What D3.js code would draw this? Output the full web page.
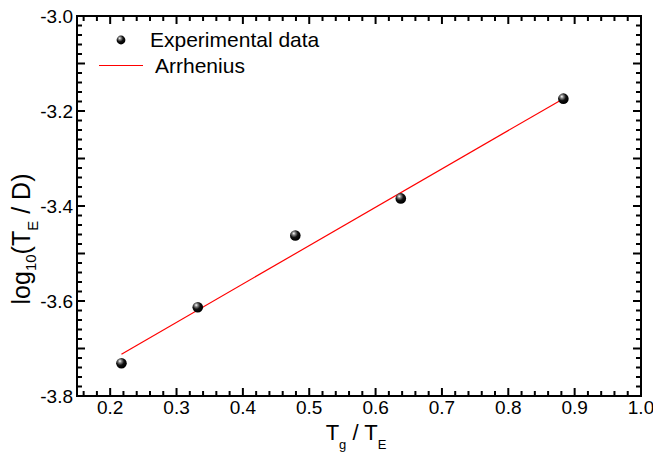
<!DOCTYPE html>
<html>
<head>
<meta charset="utf-8">
<script src="https://cdn.jsdelivr.net/npm/d3@7"></script>
<style>
  body { margin: 0; background: #fff; }
  text { font-family: "Liberation Sans", Arial, sans-serif; }
</style>
</head>
<body>
<div id="chart"></div>
<script>
// data
var xData = [0.217, 0.332, 0.479, 0.638, 0.883];
var yData = [-3.731, -3.613, -3.462, -3.384, -3.174];
// Arrhenius fit endpoints
var fitX = [0.217, 0.883];
var fitY = [-3.712, -3.174];

var xTicks = [0.2, 0.3, 0.4, 0.5, 0.6, 0.7, 0.8, 0.9, 1.0];
var yTicks = [-3.8, -3.6, -3.4, -3.2, -3.0];

var width = 653, height = 454;
var margin = {top: 16, right: 12, bottom: 58, left: 77};

var svg = d3.select("#chart").append("svg")
    .attr("width", width)
    .attr("height", height);

var x = d3.scaleLinear()
    .domain([0.15, 1.0])
    .range([margin.left, width - margin.right]);

var y = d3.scaleLinear()
    .domain([-3.8, -3.0])
    .range([height - margin.bottom, margin.top]);

var defs = svg.append("defs");
var grad = defs.append("radialGradient")
    .attr("id", "ball")
    .attr("cx", "40%").attr("cy", "35%").attr("r", "60%")
    .attr("fx", "35%").attr("fy", "30%");
grad.append("stop").attr("offset", "0%").attr("stop-color", "#ffffff");
grad.append("stop").attr("offset", "25%").attr("stop-color", "#888");
grad.append("stop").attr("offset", "60%").attr("stop-color", "#111");
grad.append("stop").attr("offset", "100%").attr("stop-color", "#000");

var left = x.range()[0], right = x.range()[1];
var bottom = y.range()[0], top_ = y.range()[1];

// minor ticks every 0.02, major every 0.1, all four sides, pointing inward
var xMinor = d3.range(0, 43).map(i => 0.16 + i * 0.02);
var yMinor = d3.range(0, 41).map(i => -3.8 + i * 0.02);
function tickLen(v) {
  var r = Math.abs(v * 10 - Math.round(v * 10));
  return r < 1e-6 ? 8 : 5;
}

var segs = [];
xMinor.forEach(v => {
  segs.push([x(v), bottom, x(v), bottom - tickLen(v)]);
  segs.push([x(v), top_, x(v), top_ + tickLen(v)]);
});
yMinor.forEach(v => {
  segs.push([left, y(v), left + tickLen(v), y(v)]);
  segs.push([right, y(v), right - tickLen(v), y(v)]);
});

svg.append("g").selectAll("line")
  .data(segs)
  .join("line")
    .attr("x1", d => d[0]).attr("y1", d => d[1])
    .attr("x2", d => d[2]).attr("y2", d => d[3])
    .attr("stroke", "#000")
    .attr("stroke-width", 2);

// frame
svg.append("rect")
    .attr("x", left).attr("y", top_)
    .attr("width", right - left).attr("height", bottom - top_)
    .attr("fill", "none")
    .attr("stroke", "#000")
    .attr("stroke-width", 2);

// tick labels
svg.append("g").selectAll("text")
  .data(xTicks)
  .join("text")
    .attr("x", d => x(d))
    .attr("y", bottom + 18)
    .attr("text-anchor", "middle")
    .attr("font-size", 19)
    .text(d => d.toFixed(1));

svg.append("g").selectAll("text")
  .data(yTicks)
  .join("text")
    .attr("x", left - 4)
    .attr("y", d => y(d) + 6.5)
    .attr("text-anchor", "end")
    .attr("font-size", 19)
    .text(d => d.toFixed(1));

// fit line
var line = d3.line().x(d => x(d[0])).y(d => y(d[1]));
svg.append("path")
    .datum(d3.zip(fitX, fitY))
    .attr("d", line)
    .attr("fill", "none")
    .attr("stroke", "#ff0000")
    .attr("stroke-width", 1.2);

// data points
svg.append("g").selectAll("circle")
  .data(d3.zip(xData, yData))
  .join("circle")
    .attr("cx", d => x(d[0]))
    .attr("cy", d => y(d[1]))
    .attr("r", 5.3)
    .attr("fill", "url(#ball)");

// legend
svg.append("circle")
    .attr("cx", 121).attr("cy", 40).attr("r", 4.4)
    .attr("fill", "url(#ball)");
svg.append("text")
    .attr("x", 150).attr("y", 47)
    .attr("font-size", 21)
    .text("Experimental data");
svg.append("line")
    .attr("x1", 99).attr("x2", 143).attr("y1", 65.5).attr("y2", 65.5)
    .attr("stroke", "#ff0000").attr("stroke-width", 1.2);
svg.append("text")
    .attr("x", 155).attr("y", 73)
    .attr("font-size", 21)
    .text("Arrhenius");

// x axis title
var xt = svg.append("text")
    .attr("x", 356).attr("y", 440)
    .attr("text-anchor", "middle")
    .attr("font-size", 22);
xt.append("tspan").text("T");
xt.append("tspan").attr("font-size", 13).attr("dy", 9).text("g");
xt.append("tspan").attr("dy", -9).text(" / T");
xt.append("tspan").attr("font-size", 13).attr("dy", 9).text("E");

// y axis title
var yt = svg.append("text")
    .attr("transform", "translate(30,239) rotate(-90)")
    .attr("text-anchor", "middle")
    .attr("font-size", 25);
yt.append("tspan").text("log");
yt.append("tspan").attr("font-size", 15).attr("dy", 6).text("10");
yt.append("tspan").attr("dy", -6).text("(T");
yt.append("tspan").attr("font-size", 15).attr("dy", 8).text("E");
yt.append("tspan").attr("dy", -8).text(" / D)");
</script>
</body>
</html>
